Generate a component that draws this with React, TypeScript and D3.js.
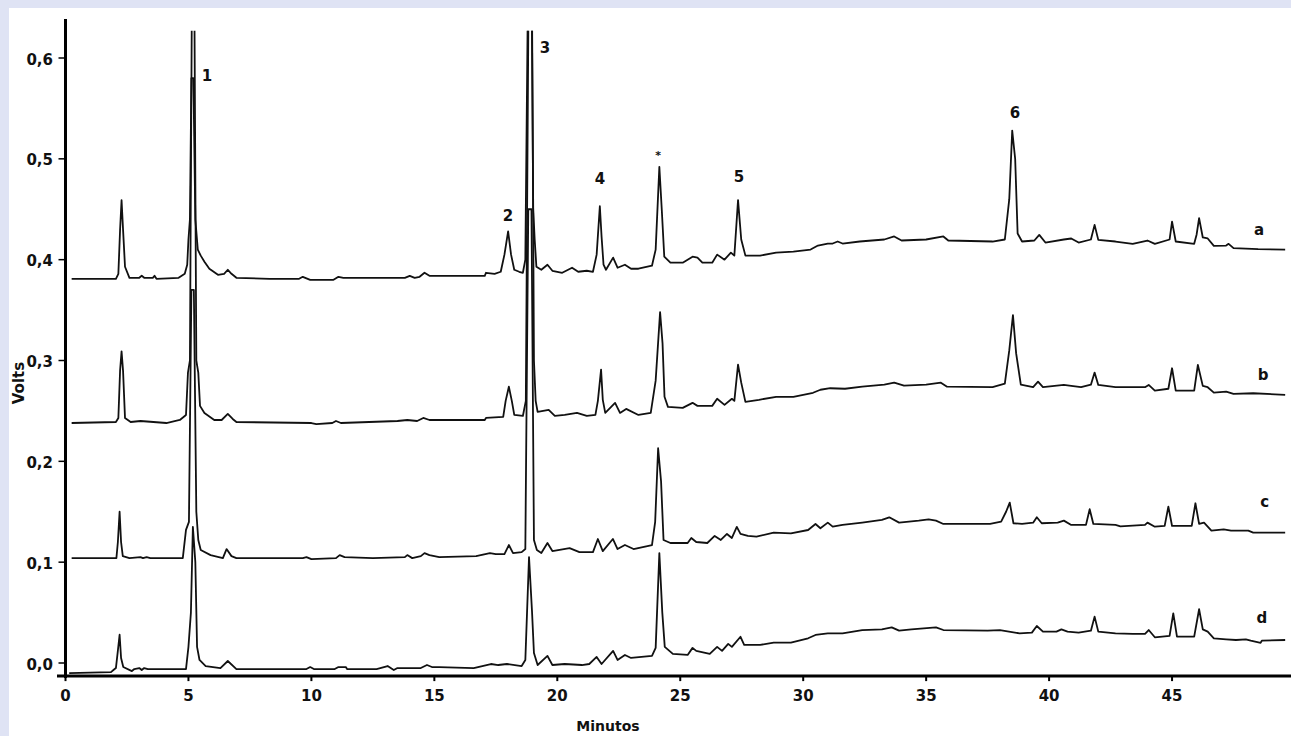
import React from "react";
import * as d3 from "d3";

type Pt = [number, number];

// Chromatogram traces: [minutes, volts]
const traceA: Pt[] = [
  [0.25,0.381],[2.05,0.381],[2.15,0.386],[2.22,0.43],[2.28,0.459],[2.34,0.43],[2.42,0.393],[2.6,0.382],
  [3.0,0.382],[3.1,0.384],[3.2,0.382],[3.55,0.382],[3.62,0.384],[3.7,0.381],[4.6,0.382],[4.85,0.386],
  [4.95,0.395],[5.0,0.42],[5.06,0.44],[5.12,0.58],[5.2,0.58],[5.28,0.44],[5.38,0.41],[5.5,0.404],
  [5.65,0.398],[5.85,0.391],[6.2,0.385],[6.45,0.386],[6.6,0.39],[6.75,0.386],[6.95,0.382],[8.3,0.381],
  [9.5,0.381],[9.65,0.383],[9.95,0.38],[10.9,0.38],[11.1,0.383],[11.3,0.382],[13.8,0.382],[14.0,0.384],
  [14.2,0.382],[14.4,0.383],[14.6,0.387],[14.8,0.384],[15.2,0.384],[17.05,0.384],[17.1,0.387],[17.45,0.386],
  [17.7,0.388],[17.85,0.405],[18.0,0.428],[18.12,0.405],[18.25,0.39],[18.45,0.388],[18.6,0.387],[18.7,0.40],
  [18.82,0.7],[18.95,0.7],[19.02,0.451],[19.08,0.42],[19.15,0.393],[19.35,0.39],[19.6,0.395],[19.8,0.389],
  [20.2,0.387],[20.6,0.392],[20.85,0.388],[21.2,0.389],[21.45,0.388],[21.6,0.405],[21.73,0.453],[21.8,0.423],
  [21.88,0.395],[21.98,0.39],[22.27,0.402],[22.45,0.392],[22.75,0.395],[23.0,0.391],[23.3,0.391],[23.85,0.394],
  [24.0,0.41],[24.15,0.492],[24.25,0.449],[24.35,0.403],[24.6,0.397],[25.1,0.397],[25.5,0.403],[25.7,0.402],
  [25.9,0.397],[26.3,0.397],[26.5,0.405],[26.8,0.4],[27.06,0.407],[27.2,0.404],[27.35,0.459],[27.48,0.42],
  [27.65,0.404],[28.25,0.404],[28.9,0.407],[29.6,0.408],[30.3,0.41],[30.6,0.414],[31.0,0.416],[31.2,0.416],
  [31.4,0.418],[31.6,0.416],[32.3,0.418],[33.3,0.42],[33.7,0.423],[34.0,0.419],[35.0,0.42],[35.7,0.423],
  [35.9,0.419],[37.7,0.418],[38.2,0.42],[38.38,0.46],[38.5,0.528],[38.62,0.5],[38.72,0.426],[38.9,0.418],
  [39.4,0.419],[39.6,0.4246],[39.85,0.417],[40.6,0.42],[40.9,0.421],[41.2,0.417],[41.7,0.42],[41.85,0.4345],
  [42.0,0.4196],[42.7,0.418],[43.4,0.4157],[44.0,0.419],[44.3,0.4157],[44.9,0.42],[45.0,0.4378],[45.15,0.418],
  [45.9,0.4157],[46.0,0.425],[46.1,0.4411],[46.25,0.422],[46.45,0.421],[46.7,0.4137],[47.2,0.414],[47.3,0.4157],
  [47.5,0.4114],[48.5,0.4104],[49.6,0.41],
];

const traceB: Pt[] = [
  [0.25,0.238],[2.05,0.239],[2.15,0.243],[2.22,0.29],[2.28,0.309],[2.34,0.29],[2.42,0.243],[2.65,0.239],
  [3.05,0.24],[4.1,0.238],[4.65,0.241],[4.9,0.246],[4.98,0.288],[5.06,0.3],[5.14,0.66],[5.24,0.66],
  [5.32,0.3],[5.4,0.288],[5.47,0.255],[5.65,0.248],[6.05,0.241],[6.35,0.241],[6.6,0.247],[6.8,0.242],
  [6.95,0.239],[10.0,0.238],[10.2,0.237],[10.85,0.238],[11.0,0.24],[11.2,0.238],[13.5,0.24],[13.9,0.241],
  [14.3,0.24],[14.55,0.243],[14.8,0.241],[15.2,0.241],[17.05,0.241],[17.1,0.243],[17.8,0.244],[17.9,0.26],
  [18.03,0.274],[18.15,0.26],[18.25,0.246],[18.6,0.245],[18.72,0.26],[18.83,0.66],[18.97,0.66],[19.05,0.3],
  [19.12,0.26],[19.2,0.249],[19.65,0.251],[19.9,0.245],[20.3,0.246],[20.8,0.248],[21.2,0.245],[21.55,0.246],
  [21.65,0.26],[21.78,0.291],[21.85,0.261],[21.95,0.248],[22.35,0.258],[22.55,0.248],[22.8,0.252],[23.3,0.246],
  [23.8,0.248],[24.0,0.28],[24.18,0.348],[24.28,0.317],[24.36,0.264],[24.5,0.254],[25.1,0.253],[25.5,0.258],
  [25.7,0.255],[26.3,0.255],[26.5,0.262],[26.8,0.256],[27.1,0.262],[27.2,0.26],[27.35,0.296],[27.48,0.278],
  [27.65,0.259],[28.2,0.261],[28.9,0.264],[29.6,0.264],[30.4,0.268],[30.7,0.271],[31.1,0.2725],[31.7,0.272],
  [32.4,0.274],[33.3,0.276],[33.7,0.278],[34.1,0.275],[35.0,0.276],[35.6,0.278],[35.85,0.274],[37.7,0.2735],
  [38.2,0.277],[38.38,0.31],[38.53,0.345],[38.66,0.307],[38.85,0.276],[39.35,0.2735],[39.55,0.279],[39.75,0.2735],
  [40.6,0.2758],[40.9,0.2748],[41.3,0.2735],[41.7,0.276],[41.85,0.288],[42.0,0.2758],[42.7,0.2735],[43.9,0.2735],
  [44.05,0.2758],[44.3,0.2702],[44.85,0.272],[45.0,0.2923],[45.15,0.2702],[45.9,0.2702],[46.05,0.2956],[46.25,0.2748],
  [46.45,0.2735],[46.7,0.2682],[47.2,0.2692],[47.5,0.2669],[48.3,0.2675],[49.6,0.2659],
];

const traceC: Pt[] = [
  [0.25,0.104],[2.07,0.104],[2.13,0.12],[2.2,0.15],[2.26,0.12],[2.33,0.106],[2.6,0.104],[3.05,0.105],
  [3.15,0.104],[3.3,0.105],[3.45,0.104],[4.77,0.104],[4.9,0.132],[5.02,0.14],[5.12,0.37],[5.22,0.37],
  [5.32,0.15],[5.4,0.122],[5.5,0.112],[5.9,0.107],[6.4,0.104],[6.55,0.113],[6.75,0.106],[6.95,0.104],
  [9.65,0.104],[9.8,0.105],[10.0,0.103],[11.0,0.104],[11.15,0.107],[11.35,0.105],[12.5,0.104],[13.8,0.105],
  [13.9,0.107],[14.1,0.104],[14.45,0.106],[14.6,0.109],[14.8,0.107],[15.2,0.105],[16.7,0.106],[17.26,0.109],
  [17.5,0.108],[17.85,0.108],[18.03,0.117],[18.2,0.109],[18.55,0.11],[18.7,0.113],[18.82,0.45],[18.95,0.45],
  [19.05,0.122],[19.17,0.112],[19.35,0.109],[19.6,0.119],[19.8,0.111],[20.5,0.114],[20.9,0.11],[21.45,0.11],
  [21.65,0.123],[21.85,0.111],[22.26,0.123],[22.45,0.113],[22.75,0.117],[23.1,0.113],[23.85,0.117],[23.98,0.14],
  [24.1,0.213],[24.22,0.18],[24.32,0.122],[24.6,0.119],[25.3,0.119],[25.45,0.124],[25.65,0.12],[26.1,0.119],
  [26.4,0.126],[26.65,0.122],[26.9,0.128],[27.1,0.124],[27.3,0.135],[27.45,0.128],[27.75,0.126],[28.1,0.1253],
  [28.8,0.1293],[29.5,0.1286],[30.2,0.1319],[30.5,0.1379],[30.7,0.1336],[31.0,0.1392],[31.2,0.1352],[31.6,0.1369],
  [32.4,0.1392],[33.2,0.1419],[33.5,0.1445],[33.9,0.1392],[34.7,0.1412],[35.1,0.1425],[35.4,0.1412],[35.7,0.1379],
  [37.6,0.1379],[38.05,0.1402],[38.25,0.15],[38.4,0.159],[38.55,0.1386],[38.9,0.1379],[39.35,0.1392],[39.5,0.1445],
  [39.7,0.1386],[40.35,0.1392],[40.6,0.1412],[40.9,0.1369],[41.5,0.137],[41.65,0.1525],[41.8,0.1379],[42.7,0.1369],
  [42.9,0.1355],[43.9,0.1369],[44.0,0.1392],[44.3,0.1352],[44.7,0.136],[44.85,0.1551],[45.0,0.1359],[45.8,0.1359],
  [45.95,0.1584],[46.1,0.1379],[46.3,0.1392],[46.6,0.1313],[47.1,0.1326],[47.4,0.1313],[48.1,0.1313],[48.3,0.1293],
  [49.6,0.1293],
];

const traceD: Pt[] = [
  [0.15,-0.01],[1.85,-0.009],[1.95,-0.007],[2.05,-0.005],[2.12,0.01],[2.2,0.028],[2.26,0.005],[2.35,-0.004],
  [2.7,-0.008],[2.8,-0.006],[3.0,-0.005],[3.1,-0.007],[3.2,-0.005],[3.35,-0.006],[4.9,-0.006],[5.0,0.016],
  [5.1,0.05],[5.18,0.135],[5.28,0.1],[5.35,0.016],[5.45,0.003],[5.7,-0.003],[6.3,-0.005],[6.6,0.002],
  [6.95,-0.006],[9.8,-0.006],[9.95,-0.004],[10.1,-0.006],[10.95,-0.006],[11.1,-0.004],[11.4,-0.004],[11.45,-0.006],
  [12.65,-0.006],[12.8,-0.005],[13.1,-0.003],[13.35,-0.007],[13.5,-0.005],[14.45,-0.005],[14.7,-0.002],[14.9,-0.004],
  [15.2,-0.004],[16.6,-0.005],[17.3,-0.001],[17.6,-0.002],[17.95,-0.001],[18.55,-0.003],[18.7,0.003],[18.85,0.105],
  [18.97,0.052],[19.05,0.01],[19.2,-0.002],[19.6,0.007],[19.8,-0.002],[20.3,-0.001],[21.0,-0.002],[21.3,-0.001],
  [21.6,0.006],[21.8,-0.001],[22.27,0.012],[22.45,0.003],[22.75,0.008],[23.0,0.005],[23.85,0.007],[24.0,0.015],
  [24.15,0.109],[24.27,0.05],[24.37,0.016],[24.7,0.009],[25.3,0.008],[25.5,0.015],[25.65,0.012],[26.2,0.009],
  [26.5,0.016],[26.7,0.012],[26.95,0.019],[27.1,0.016],[27.45,0.026],[27.6,0.018],[28.25,0.018],[28.8,0.0202],
  [29.5,0.0202],[30.2,0.0245],[30.5,0.0278],[31.0,0.0294],[31.6,0.0294],[32.4,0.0327],[33.2,0.0334],[33.6,0.0354],
  [33.9,0.0321],[34.4,0.0334],[35.4,0.0354],[35.7,0.0327],[37.5,0.0321],[38.0,0.0327],[38.8,0.0294],[39.3,0.0301],
  [39.5,0.0367],[39.75,0.0311],[40.3,0.0311],[40.5,0.0334],[40.75,0.0311],[41.2,0.0301],[41.7,0.032],[41.85,0.046],
  [42.0,0.0311],[42.7,0.0294],[43.4,0.0288],[43.9,0.0288],[44.05,0.0327],[44.3,0.0255],[44.9,0.027],[45.05,0.0493],
  [45.2,0.0261],[45.9,0.0261],[46.1,0.0533],[46.25,0.0334],[46.45,0.0311],[46.7,0.0245],[47.2,0.0235],[47.6,0.0228],
  [48.0,0.0235],[48.2,0.0221],[48.6,0.02],[48.65,0.0221],[49.6,0.0228],
];

const traces: Pt[][] = [traceA, traceB, traceC, traceD];

const xTicks = [0, 5, 10, 15, 20, 25, 30, 35, 40, 45];
const yTicks = [0, 0.1, 0.2, 0.3, 0.4, 0.5, 0.6];
const yTickLabels = ["0,0", "0,1", "0,2", "0,3", "0,4", "0,5", "0,6"];

const peakLabelText = ["1", "2", "3", "4", "*", "5", "6"];
const peakLabelT = [5.75, 17.99, 19.5, 21.74, 24.1, 27.39, 38.61];
const peakLabelV = [0.582, 0.443, 0.61, 0.48, 0.507, 0.482, 0.545];

const traceLabelText = ["a", "b", "c", "d"];
const traceLabelT = [48.54, 48.7, 48.77, 48.65];
const traceLabelV = [0.4296, 0.2857, 0.1597, 0.0446];

export default function App() {
  const W = 1291;
  const H = 736;
  const x = d3.scaleLinear().domain([0, 50]).range([65.5, 65.5 + 50 * 24.59]);
  const y = d3.scaleLinear().domain([0, 0.6]).range([663, 58]);
  const line = d3
    .line<Pt>()
    .x((d) => x(d[0]))
    .y((d) => y(d[1]));
  const font = "'DejaVu Sans', sans-serif";
  const clipTop = y(0.627);
  const axisY = y(-0.013);

  return (
    <div style={{ position: "absolute", left: 0, top: 0, width: W, height: H }}>
      <svg width={W} height={H} style={{ display: "block" }}>
        <defs>
          <clipPath id="plotClip">
            <rect x={x(0)} y={clipTop} width={W - x(0)} height={axisY - clipTop} />
          </clipPath>
        </defs>
        <rect x={0} y={0} width={W} height={H} fill="#dfe3f4" />
        <rect x={9} y={8} width={W - 9} height={H - 8} fill="#ffffff" />

        <g clipPath="url(#plotClip)">
          {traces.map((tr, i) => (
            <path
              key={i}
              d={line(tr) || ""}
              fill="none"
              stroke="#111"
              strokeWidth={1.8}
              strokeLinejoin="round"
            />
          ))}
        </g>

        {/* y axis */}
        <line x1={x(0)} x2={x(0)} y1={19} y2={axisY + 2} stroke="#000" strokeWidth={3} />
        {yTicks.map((v, i) => (
          <g key={"yt" + i}>
            <line x1={x(0) - 7} x2={x(0)} y1={y(v)} y2={y(v)} stroke="#000" strokeWidth={1.5} />
            <text
              x={53}
              y={y(v) + 6.5}
              textAnchor="end"
              fontFamily={font}
              fontWeight="bold"
              fontSize={15}
              fill="#111"
            >
              {yTickLabels[i]}
            </text>
          </g>
        ))}

        {/* x axis */}
        <line x1={57} x2={W} y1={axisY} y2={axisY} stroke="#000" strokeWidth={3} />
        {xTicks.map((t, i) => (
          <g key={"xt" + i}>
            <line x1={x(t)} x2={x(t)} y1={axisY} y2={axisY + 5} stroke="#000" strokeWidth={2} />
            <text
              x={x(t)}
              y={701}
              textAnchor="middle"
              fontFamily={font}
              fontWeight="bold"
              fontSize={15}
              fill="#111"
            >
              {t}
            </text>
          </g>
        ))}

        <text
          x={608}
          y={731}
          textAnchor="middle"
          fontFamily={font}
          fontWeight="bold"
          fontSize={14}
          fill="#111"
        >
          Minutos
        </text>
        <text
          transform="translate(19,383) rotate(-90)"
          textAnchor="middle"
          dominantBaseline="central"
          fontFamily={font}
          fontWeight="bold"
          fontSize={15}
          fill="#111"
        >
          Volts
        </text>

        {peakLabelText.map((s, i) => (
          <text
            key={"pl" + i}
            x={x(peakLabelT[i])}
            y={y(peakLabelV[i])}
            dy={s === "*" ? 4 : 0}
            textAnchor="middle"
            dominantBaseline="central"
            fontFamily={font}
            fontWeight="bold"
            fontSize={s === "*" ? 11 : 15}
            fill="#111"
          >
            {s}
          </text>
        ))}

        {traceLabelText.map((s, i) => (
          <text
            key={"tl" + i}
            x={x(traceLabelT[i])}
            y={y(traceLabelV[i])}
            textAnchor="middle"
            dominantBaseline="central"
            fontFamily={font}
            fontWeight="bold"
            fontSize={15}
            fill="#111"
          >
            {s}
          </text>
        ))}
      </svg>
    </div>
  );
}
